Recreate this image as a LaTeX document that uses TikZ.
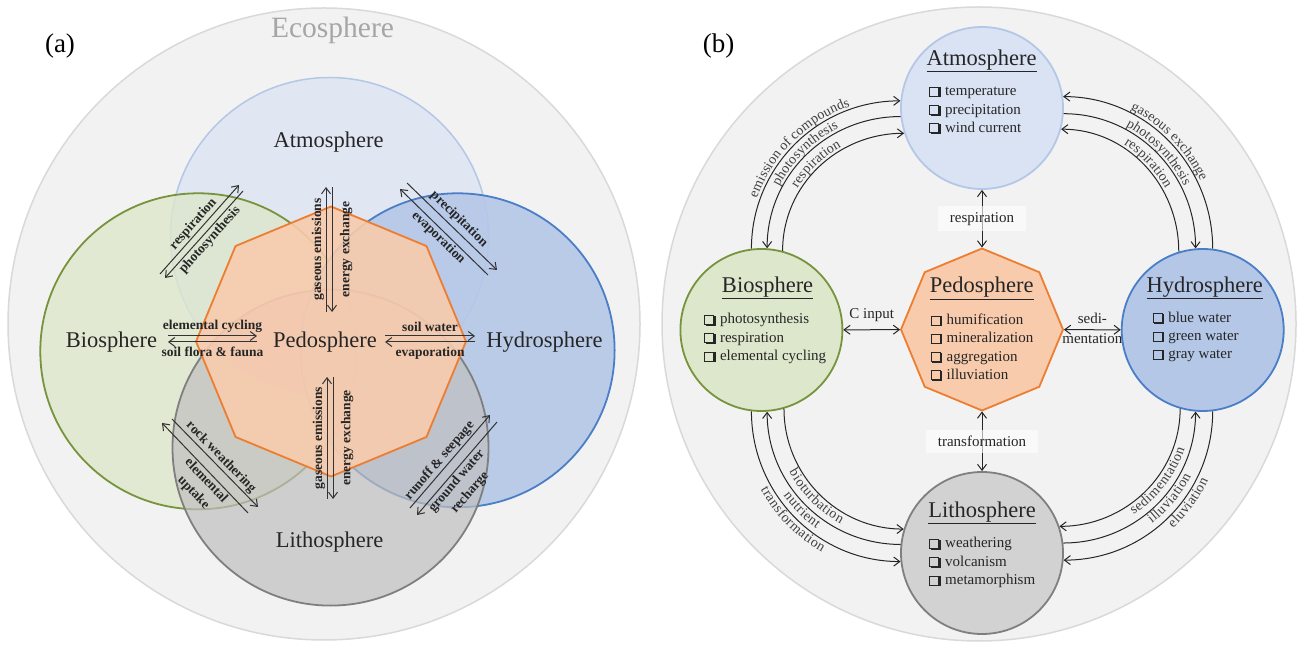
\documentclass[tikz,border=0pt]{standalone}
\usepackage{fontspec}
\setmainfont{Liberation Serif}
\usetikzlibrary{shapes.geometric, arrows.meta, decorations.text}

\definecolor{ecobg}{HTML}{F2F2F2}
\definecolor{ecoline}{HTML}{D9D9D9}
\definecolor{ecotext}{HTML}{A6A6A6}
\definecolor{atmfill}{HTML}{DAE3F3}
\definecolor{atmline}{HTML}{B4C7E7}
\definecolor{biofill}{HTML}{DDE7CC}
\definecolor{bioline}{HTML}{77933C}
\definecolor{hydfill}{HTML}{B4C7E7}
\definecolor{hydline}{HTML}{4A7EC6}
\definecolor{litfill}{HTML}{BFBFBF}
\definecolor{litline}{HTML}{7F7F7F}
\definecolor{pedfill}{HTML}{F8CBAD}
\definecolor{pedline}{HTML}{ED7D31}
\definecolor{inkdark}{HTML}{262626}
\definecolor{arrowgray}{HTML}{333333}
\definecolor{labgray}{HTML}{404040}

% shadowed check box
\newcommand\chk{{\setlength\fboxsep{0pt}\setlength\fboxrule{1pt}\fbox{\rule{0pt}{8pt}\hspace{8pt}}\kern-0.3pt\rule[-1.6pt]{1.6pt}{10pt}\llap{\rule[-1.6pt]{10pt}{1.6pt}}}\hspace{4.5pt}}
\newcommand\arcfont{\fontsize{14}{15}\selectfont}

\begin{document}
\begin{tikzpicture}[x=1pt, y=1pt, >={Straight Barb[length=6pt,width=9pt]},
    sphname/.style={font=\fontsize{22.5}{26}\selectfont, text=inkdark},
    flow/.style={draw=arrowgray, line width=1pt},
    flowlab/.style={font=\bfseries\fontsize{13.5}{17.5}\selectfont, text=inkdark, inner sep=1.5pt, align=center},
    sph/.style={circle, minimum size=162, inner sep=0pt, line width=1.8pt},
    octa/.style={regular polygon, regular polygon sides=8, shape border rotate=22.5, inner sep=0pt, draw=pedline, line width=1.8pt},
    items/.style={anchor=west, align=left, inner sep=0pt, text=inkdark, font=\fontsize{15}{18.3}\selectfont},
    link/.style={draw=inkdark, line width=1pt},
    linklab/.style={text=inkdark, font=\fontsize{15}{18}\selectfont},
    arcup/.style={postaction={decorate, decoration={text along path, text color=labgray, text align=center, raise=3pt, text={|\arcfont|#1}}}},
    arcdown/.style={postaction={decorate, decoration={text along path, text color=labgray, text align=center, raise=-11pt, text={|\arcfont|#1}}}},
    arcdownat/.style 2 args={postaction={decorate, decoration={text along path, text color=labgray, text align={left indent=#2}, raise=-11pt, text={|\arcfont|#1}}}}]
    \useasboundingbox (0,0) rectangle (1300,645);

    % ---------- (a) ----------
    \draw[fill=ecobg, draw=ecoline, line width=1.5pt] (324,321) circle [radius=316];
    \draw[fill=atmfill, fill opacity=0.75, draw=atmline, line width=1.5pt] (329.5,408.5) circle [radius=159];
    \draw[fill=biofill, fill opacity=0.8, draw=bioline, line width=1.8pt] (198.3,293.7) circle [radius=158];
    \draw[fill=hydfill, fill opacity=0.9, draw=hydline, line width=1.8pt] (457.6,294.7) circle [radius=157];
    \draw[fill=litfill, fill opacity=0.7, draw=litline, line width=1.8pt] (330.5,197.4) circle [radius=158];
    \node[octa, minimum size=270, fill=pedfill, fill opacity=0.9] (pedA) at (331,303.5) {};

    \node[text=ecotext, font=\fontsize{29.5}{32}\selectfont] (eco) at (332.5,615) {Ecosphere};
    \node[font=\fontsize{27}{30}\selectfont] (tagA) at (60,598.5) {(a)};
    \node[sphname] (atmA) at (328.5,503.4) {Atmosphere};
    \node[sphname] (bioA) at (111.5,303) {Biosphere};
    \node[sphname] (pedAt) at (325,303) {Pedosphere};
    \node[sphname] (hydA) at (544.4,303) {Hydrosphere};
    \node[sphname] (litA) at (329.5,102.6) {Lithosphere};

    % exchange arrows
    \draw[flow,->] (168,309) -- (257,309) node[midway, above=2pt, flowlab] {elemental cycling};
    \draw[flow,->] (257,303) -- (168,303) node[midway, below=3pt, flowlab] {soil flora \& fauna};
    \draw[flow,->] (385,309) -- (475,309) node[midway, above=2pt, flowlab] {soil water};
    \draw[flow,->] (475,303) -- (385,303) node[midway, below=3pt, flowlab] {evaporation};

    \draw[flow,->] (326,333) -- (326,458) node[midway, sloped, above, flowlab] {gaseous emissions};
    \draw[flow,<-] (332,333) -- (332,458) node[midway, sloped, below=6pt, flowlab] {energy exchange};
    \draw[flow,->] (327,146) -- (327,268) node[midway, sloped, above, flowlab] {gaseous emissions};
    \draw[flow,<-] (333,146) -- (333,268) node[midway, sloped, below=6pt, flowlab] {energy exchange};

    \draw[flow,->] (160,371) -- (239,460) node[midway, sloped, above, flowlab] {respiration};
    \draw[flow,->] (243,454) -- (165,367) node[midway, sloped, below, flowlab] {photosynthesis};
    \draw[flow,->] (407,462) -- (497,375) node[midway, sloped, above=2pt, flowlab] {precipitation};
    \draw[flow,->] (488,370) -- (400,456) node[midway, sloped, below, flowlab] {evaporation};

    \draw[flow,->] (172,226) -- (258,138) node[midway, sloped, above, flowlab] {rock weathering};
    \draw[flow,->] (248,132) -- (162,222) node[pos=0.42, sloped, below, flowlab] {elemental\\uptake};
    \draw[flow,->] (410,137) -- (490,230) node[pos=0.45, sloped, above, flowlab] {runoff \& seepage};
    \draw[flow,->] (497,223) -- (417,130) node[pos=0.58, sloped, below, flowlab] {ground water\\recharge};

    % ---------- (b) ----------
    \draw[fill=ecobg, draw=ecoline, line width=1.5pt] (979,321) circle [radius=317];
    \node[font=\fontsize{27}{30}\selectfont] (tagB) at (718.5,598.5) {(b)};

    \node[sph, fill=atmfill, draw=atmline] (atmB) at (982,537) {};
    \node[sph, fill=biofill, draw=bioline] (bioB) at (761.4,315) {};
    \node[sph, fill=hydfill, draw=hydline] (hydB) at (1202.7,315) {};
    \node[sph, fill=litfill!70, draw=litline] (litB) at (982,92) {};
    \node[octa, minimum size=162, fill=pedfill] (pedB) at (982,315.5) {};

    \node[sphname] (atmT) at (981.5,584) {\underline{Atmosphere}};
    \node[items] (atmL) at (929,534.5) {\chk temperature\\\chk precipitation\\\chk wind current};
    \node[sphname] (bioT) at (767.6,357) {\underline{Biosphere}};
    \node[items] (bioL) at (704,306.3) {\chk photosynthesis\\\chk respiration\\\chk elemental cycling};
    \node[sphname] (hydT) at (1204.8,357) {\underline{Hydrosphere}};
    \node[items] (hydL) at (1152.3,308) {\chk blue water\\\chk green water\\\chk gray water};
    \node[sphname] (pedT) at (981.7,356.7) {\underline{Pedosphere}};
    \node[items] (pedL) at (930.7,297.5) {\chk humification\\\chk mineralization\\\chk aggregation\\\chk illuviation};
    \node[sphname] (litT) at (982,132.4) {\underline{Lithosphere}};
    \node[items] (litL) at (929.2,82.4) {\chk weathering\\\chk volcanism\\\chk metamorphism};

    % links to the pedosphere
    \draw[link,<->] (atmB) -- (pedB) node[midway, linklab, fill=white, fill opacity=0.6, text opacity=1, inner xsep=12pt, inner ysep=6pt] (resp) {respiration};
    \draw[link,<->] (pedB) -- (litB) node[midway, linklab, fill=white, fill opacity=0.6, text opacity=1, inner xsep=12pt, inner ysep=6pt] (trans) {transformation};
    \draw[link,<->] (bioB) -- (pedB) node[midway, above=4pt, linklab] (cin) {C input};
    \draw[link,<->] (pedB) -- (hydB) node[midway, above=2pt, linklab] (sedi) {sedi-} node[midway, below=0pt, linklab] (ment) {mentation};

    % upper left
    \draw[link, ->, arcup={emission of compounds}] (bioB.97) to[out=90, in=180] (atmB.175);
    \draw[link, <-, arcup={photosynthesis}] (bioB.86) to[out=90, in=180] (atmB.186);
    \draw[link, ->, arcup={respiration}] (bioB.75) to[out=90, in=180] (atmB.198);
    % upper right
    \draw[link, <-, arcup={gaseous exchange}] (atmB.8) to[out=0, in=90] (hydB.83);
    \draw[link, ->, arcup={photosynthesis}] (atmB.-4) to[out=0, in=90] (hydB.95);
    \draw[link, <-, arcup={respiration}] (atmB.-15) to[out=0, in=90] (hydB.107);
    % lower left
    \draw[link, ->, arcdown={transformation}] (bioB.263) to[out=-90, in=180] (litB.186);
    \draw[link, <-, arcdown={nutrient}] (bioB.274) to[out=-90, in=180] (litB.174);
    \draw[link, ->, arcdown={bioturbation}] (bioB.286) to[out=-90, in=180] (litB.163);
    % lower right
    \draw[link, <-, arcdownat={eluviation}{112pt}] (litB.-5) to[out=0, in=-90] (hydB.-83);
    \draw[link, ->, arcdownat={illuviation}{88pt}] (litB.7.5) to[out=0, in=-90] (hydB.-95);
    \draw[link, <-, arcdownat={sedimentation}{72pt}] (litB.19) to[out=0, in=-90] (hydB.-106);
\end{tikzpicture}
\end{document}
